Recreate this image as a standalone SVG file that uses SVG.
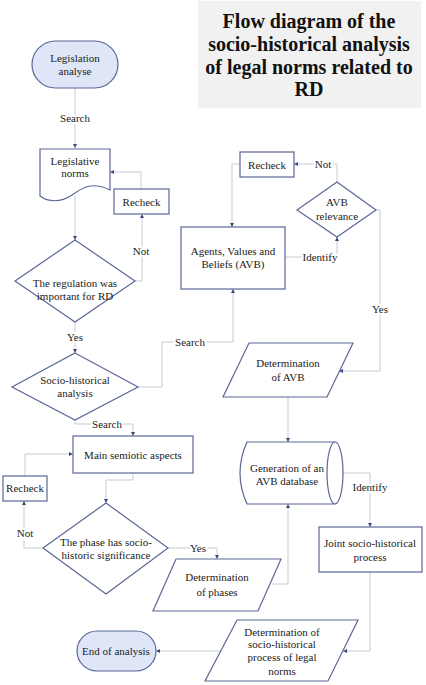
<svg xmlns="http://www.w3.org/2000/svg" width="426" height="685" viewBox="0 0 426 685" font-family="'Liberation Serif', 'DejaVu Serif', serif">
<defs>
<style>
text{font-family:'Liberation Serif','DejaVu Serif',serif}
.n{fill:#fff;stroke:#5b6796;stroke-width:1.2}
.t{fill:#dfe6f7;stroke:#5b6796;stroke-width:1.2}
.tx{font-size:11px;fill:#222;text-anchor:middle}
.lb{font-size:11px;fill:#222;text-anchor:middle;stroke:#fff;stroke-width:4;paint-order:stroke}
.c{fill:none;stroke:#c6cbd6;stroke-width:1;marker-end:url(#a)}
.ti{font-size:20px;font-weight:bold;fill:#111;text-anchor:middle}
</style>
<marker id="a" viewBox="0 0 6 6" refX="6" refY="3" markerWidth="4" markerHeight="4" markerUnits="userSpaceOnUse" orient="auto">
<path d="M0,0 L6,3 L0,6 Z" fill="#3d4a7c"/>
</marker>
</defs>
<rect width="426" height="685" fill="#fff"/>

<g id="title">
<rect x="198" y="1" width="223" height="107" fill="#f1f1f1"/>
<text class="ti" x="309" y="28">Flow diagram of the</text>
<text class="ti" x="309" y="51">socio-historical analysis</text>
<text class="ti" x="309" y="74">of legal norms related to</text>
<text class="ti" x="309" y="96">RD</text>
</g>

<g id="connectors">
<path class="c" d="M75,88 V148"/>
<path class="c" d="M75,196 V240"/>
<path class="c" d="M135,281 H142 V214"/>
<path class="c" d="M141,189 V172 H110"/>
<path class="c" d="M75,322 V353"/>
<path class="c" d="M138,387 H162 V342 H233 V289"/>
<path class="c" d="M75,420 V424 H133 V436"/>
<path class="c" d="M133,473 V480 H106 V503"/>
<path class="c" d="M43,548 H24 V501"/>
<path class="c" d="M25,476 V454 H73"/>
<path class="c" d="M168,548 H217 V559"/>
<path class="c" d="M272,584 H288 V504"/>
<path class="c" d="M288,397 V442"/>
<path class="c" d="M285,257 H337 V237"/>
<path class="c" d="M337,182 V164 H294"/>
<path class="c" d="M240,164 H232 V227"/>
<path class="c" d="M376,210 H380 V371 H339"/>
<path class="c" d="M343,473 H370 V527"/>
<path class="c" d="M370,572 V651 H343"/>
<path class="c" d="M221,651 H156"/>
<text class="lb" x="75" y="122">Search</text>
<text class="lb" x="141" y="255">Not</text>
<text class="lb" x="75" y="341">Yes</text>
<text class="lb" x="190" y="346">Search</text>
<text class="lb" x="107" y="428">Search</text>
<text class="lb" x="25" y="537">Not</text>
<text class="lb" x="198" y="552">Yes</text>
<text class="lb" x="320" y="261">Identify</text>
<text class="lb" x="323" y="168">Not</text>
<text class="lb" x="380" y="313">Yes</text>
<text class="lb" x="370" y="491">Identify</text>
</g>

<g id="legislation-analyse">
<rect class="t" x="32" y="41" width="86" height="47" rx="23.5"/>
<text class="tx" x="75" y="62">Legislation</text>
<text class="tx" x="75" y="75">analyse</text>
</g>

<g id="legislative-norms">
<path class="n" d="M40,149 H110 V190 C92,181 82,188 72,195 C60,203 48,202 40,196 Z"/>
<text class="tx" x="75" y="165">Legislative</text>
<text class="tx" x="75" y="177">norms</text>
</g>

<g id="recheck-1">
<rect class="n" x="114" y="189" width="55" height="25"/>
<text class="tx" x="141.5" y="206">Recheck</text>
</g>

<g id="regulation-important">
<polygon class="n" points="75,240 135,281 75,322 15,281"/>
<text class="tx" x="75" y="287">The regulation was</text>
<text class="tx" x="75" y="300">important for RD</text>
</g>

<g id="socio-historical-analysis">
<polygon class="n" points="75,353 138,387 75,420 12,387"/>
<text class="tx" x="75" y="384">Socio-historical</text>
<text class="tx" x="75" y="397">analysis</text>
</g>

<g id="main-semiotic">
<rect class="n" x="73" y="436" width="120" height="37"/>
<text class="tx" x="133" y="459">Main semiotic aspects</text>
</g>

<g id="recheck-2">
<rect class="n" x="3" y="476" width="44" height="25"/>
<text class="tx" x="25" y="492">Recheck</text>
</g>

<g id="phase-significance">
<polygon class="n" points="106,503 168,548 106,594 43,548"/>
<text class="tx" x="106" y="546">The phase has socio-</text>
<text class="tx" x="106" y="559">historic significance</text>
</g>

<g id="determination-phases">
<polygon class="n" points="176,559 281,559 258,611 153,611"/>
<text class="tx" x="217" y="581">Determination</text>
<text class="tx" x="217" y="596">of phases</text>
</g>

<g id="end-of-analysis">
<rect class="t" x="77" y="631" width="79" height="40" rx="20"/>
<text class="tx" x="116" y="655">End of analysis</text>
</g>

<g id="determination-process">
<polygon class="n" points="237,620 358,620 328,681 205,681"/>
<text class="tx" x="282" y="636">Determination of</text>
<text class="tx" x="282" y="648">socio-historical</text>
<text class="tx" x="282" y="661">process of legal</text>
<text class="tx" x="282" y="675">norms</text>
</g>

<g id="joint-process">
<rect class="n" x="319" y="527" width="103" height="45"/>
<text class="tx" x="370" y="547">Joint socio-historical</text>
<text class="tx" x="370" y="561">process</text>
</g>

<g id="avb-database">
<path class="n" d="M247,442 H335 A8,31 0 0 1 335,504 H247 Q233,473 247,442 Z"/>
<path class="n" fill="none" d="M335,442 A8,31 0 0 0 335,504"/>
<text class="tx" x="287" y="472">Generation of an</text>
<text class="tx" x="287" y="485">AVB database</text>
</g>

<g id="determination-avb">
<polygon class="n" points="249,343 353,343 327,397 223,397"/>
<text class="tx" x="288" y="367">Determination</text>
<text class="tx" x="288" y="381">of AVB</text>
</g>

<g id="avb">
<rect class="n" x="181" y="227" width="104" height="62"/>
<text class="tx" x="233" y="255">Agents, Values and</text>
<text class="tx" x="233" y="268">Beliefs (AVB)</text>
</g>

<g id="recheck-3">
<rect class="n" x="240" y="152" width="54" height="25"/>
<text class="tx" x="267" y="169">Recheck</text>
</g>

<g id="avb-relevance">
<polygon class="n" points="337,182 376,210 337,237 297,210"/>
<text class="tx" x="337" y="206">AVB</text>
<text class="tx" x="337" y="220">relevance</text>
</g>
</svg>
